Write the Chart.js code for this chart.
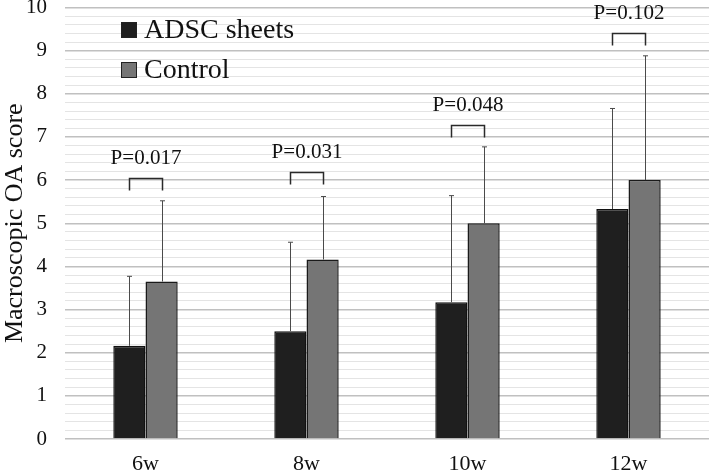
<!DOCTYPE html>
<html>
<head>
<meta charset="utf-8">
<script src="https://cdn.jsdelivr.net/npm/chart.js@4/dist/chart.umd.min.js"></script>
<style>
html,body{margin:0;padding:0;background:#fff;}
#wrap{width:709px;height:472px;position:relative;}
</style>
</head>
<body>
<div id="wrap"><canvas id="c" width="709" height="472"></canvas></div>
<script>
const categories = ["6w", "8w", "10w", "12w"];
const seriesNames = ["ADSC sheets", "Control"];
const adscValues = [2.16, 2.50, 3.17, 5.33];
const controlValues = [3.65, 4.16, 5.00, 6.00];
const adscSD = [1.61, 2.06, 2.47, 2.33];
const controlSD = [1.87, 1.46, 1.77, 2.88];
const pLabels = ["P=0.017", "P=0.031", "P=0.048", "P=0.102"];
const bracketLevels = [6.05, 6.19, 7.28, 9.41];
const yTickLabels = [0,1,2,3,4,5,6,7,8,9,10];

const FONT = "'Liberation Serif', 'Times New Roman', serif";
const errors = [adscSD, controlSD];

const overlay = {
  id: 'overlay',
  afterDatasetsDraw(chart) {
    const ctx = chart.ctx;
    const y = chart.scales.y;
    ctx.save();
    chart.data.datasets.forEach((ds, di) => {
      const meta = chart.getDatasetMeta(di);
      meta.data.forEach((bar, i) => {
        const top = y.getPixelForValue(ds.data[i] + errors[di][i]);
        const x = Math.round(bar.x) + 0.5;
        ctx.strokeStyle = '#4a4a4a';
        ctx.lineWidth = 1;
        ctx.beginPath();
        ctx.moveTo(x, bar.y);
        ctx.lineTo(x, top);
        ctx.moveTo(x - 2.5, top);
        ctx.lineTo(x + 2.5, top);
        ctx.stroke();
      });
    });
    const m0 = chart.getDatasetMeta(0), m1 = chart.getDatasetMeta(1);
    categories.forEach((c, i) => {
      const x0 = Math.round(m0.data[i].x) + 0.5;
      const x1 = Math.round(m1.data[i].x) + 0.5;
      const yt = Math.round(y.getPixelForValue(bracketLevels[i])) + 0.5;
      ctx.strokeStyle = '#2a2a2a';
      ctx.lineWidth = 1.5;
      ctx.beginPath();
      ctx.moveTo(x0, yt + 12);
      ctx.lineTo(x0, yt);
      ctx.lineTo(x1, yt);
      ctx.lineTo(x1, yt + 12);
      ctx.stroke();
      ctx.fillStyle = '#111';
      ctx.font = '21px ' + FONT;
      ctx.textAlign = 'center';
      ctx.textBaseline = 'middle';
      ctx.fillText(pLabels[i], (x0 + x1) / 2, yt - 20);
    });
    const lx = 121;
    const rows = [30, 70];
    chart.data.datasets.forEach((ds, di) => {
      const cy = rows[di];
      ctx.fillStyle = ds.backgroundColor;
      ctx.fillRect(lx + 0.5, cy - 7.5, 15, 15);
      ctx.strokeStyle = '#222';
      ctx.lineWidth = 1;
      ctx.strokeRect(lx + 0.5, cy - 7.5, 15, 15);
      ctx.fillStyle = '#111';
      ctx.font = '28px ' + FONT;
      ctx.textAlign = 'left';
      ctx.textBaseline = 'middle';
      ctx.fillText(ds.label, lx + 23, cy + 1);
    });
    ctx.restore();
  }
};

function isMajor(v) { return Math.abs(v - Math.round(v)) < 1e-6; }

new Chart(document.getElementById('c'), {
  type: 'bar',
  data: {
    labels: categories,
    datasets: [
      { label: seriesNames[0], data: adscValues, backgroundColor: '#1f1f1f', borderColor: '#111', borderWidth: 1.5 },
      { label: seriesNames[1], data: controlValues, backgroundColor: '#757575', borderColor: '#1a1a1a', borderWidth: 1.5 }
    ]
  },
  options: {
    responsive: false,
    animation: false,
    devicePixelRatio: 1,
    layout: { padding: 0 },
    datasets: { bar: { categoryPercentage: 0.4, barPercentage: 1.0 } },
    plugins: { legend: { display: false }, tooltip: { enabled: false } },
    scales: {
      x: {
        grid: { display: false, drawTicks: false },
        border: { display: false },
        ticks: { color: '#111', font: { family: FONT, size: 22 }, padding: 12 },
        afterFit(scale) { scale.height = 33; scale.paddingLeft = 0; scale.paddingRight = 0; }
      },
      y: {
        min: 0, max: 10,
        afterBuildTicks(scale) {
          const t = [];
          for (let k = 0; k <= 50; k++) t.push({ value: Math.round(k * 2) / 10 });
          scale.ticks = t;
        },
        afterFit(scale) { scale.width = 65; scale.paddingTop = 7.5; scale.paddingBottom = 0; },
        grid: {
          drawTicks: false,
          color: (ctx) => isMajor(ctx.tick.value) ? '#c0c0c0' : '#e4e4e4',
          lineWidth: (ctx) => isMajor(ctx.tick.value) ? 1.5 : 1
        },
        border: { display: false },
        ticks: {
          autoSkip: false,
          color: '#111',
          font: { family: FONT, size: 21 },
          padding: 18,
          callback: (v) => {
            const r = Math.round(v);
            return (isMajor(v) && yTickLabels.includes(r)) ? String(r) : '';
          }
        },
        title: { display: true, text: 'Macroscopic OA score', color: '#111', font: { family: FONT, size: 26 }, padding: { top: 0, bottom: 0 } }
      }
    }
  },
  plugins: [overlay]
});
</script>
</body>
</html>
